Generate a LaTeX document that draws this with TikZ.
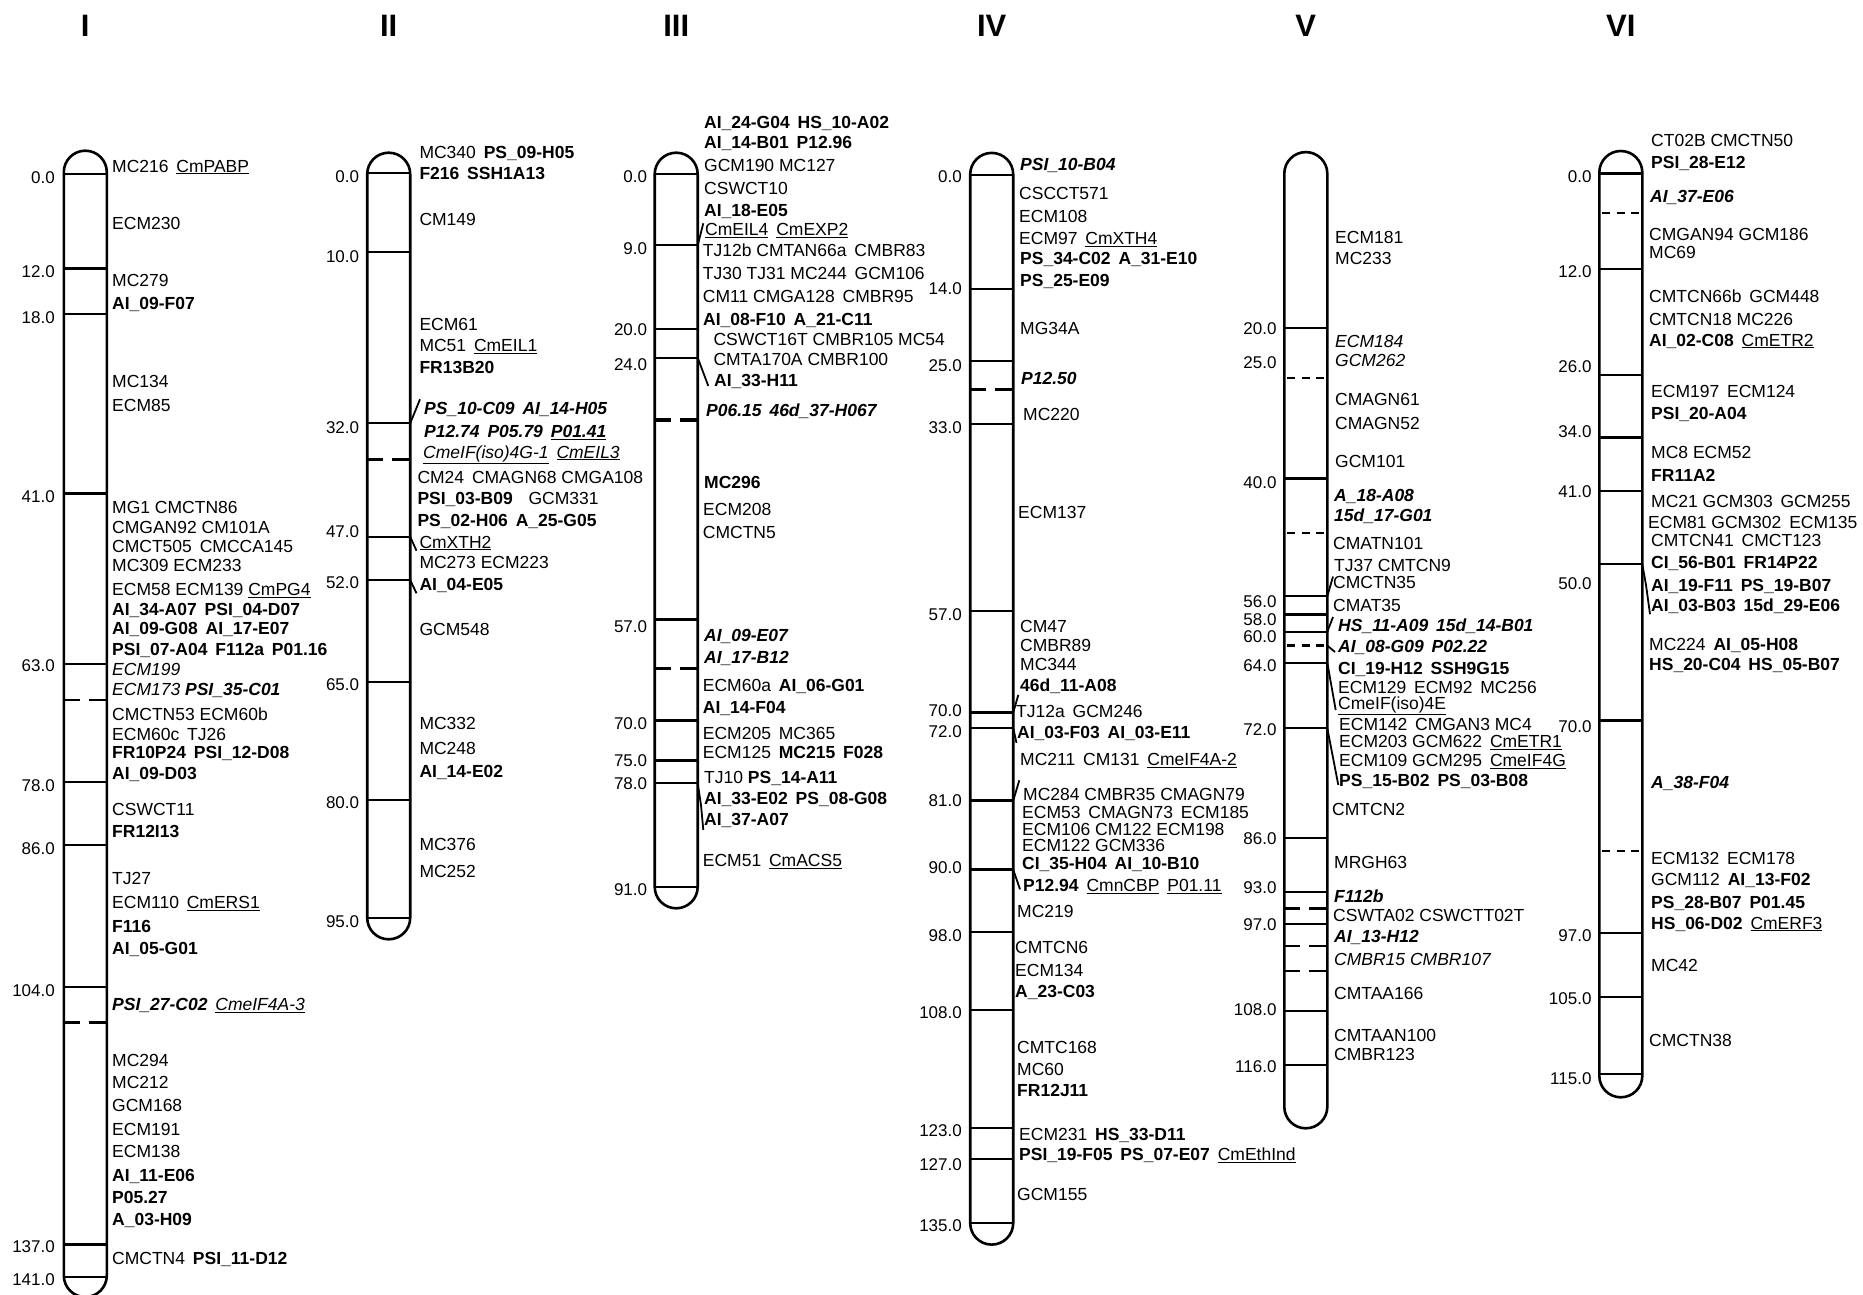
\documentclass[tikz,border=0pt]{standalone}
\usepackage{fontspec}
\setmainfont{Liberation Sans}
\newcommand{\mB}[1]{\textbf{#1}}
\newcommand{\mI}[1]{\textit{#1}}
\newcommand{\mBI}[1]{\textbf{\textit{#1}}}
\newcommand{\mU}[1]{\underline{#1}}
\newcommand{\gp}{\hspace{0.45em}}
\tikzset{
 lbl/.style={font=\fontsize{17.5}{19}\selectfont, anchor=west, inner sep=0pt, text height=12.6pt, text depth=0pt},
 tk/.style={font=\fontsize{17}{19}\selectfont, anchor=east, inner sep=0pt, text height=12.2pt, text depth=0pt},
 hdr/.style={font=\fontsize{31}{33}\selectfont\bfseries, inner sep=0pt},
 bar/.style={line width=2.6pt},
 tick/.style={line width=2.3pt},
 thk/.style={line width=3.2pt},
 dsh/.style={line width=2.4pt, dash pattern=on 16pt off 9pt on 18pt off 9pt},
 dshk/.style={line width=3.2pt, dash pattern=on 16pt off 9pt on 18pt off 9pt},
 dshs/.style={line width=2.2pt, dash pattern=on 8pt off 6.5pt},
 dshsk/.style={line width=3.2pt, dash pattern=on 8pt off 6.5pt},
 slant/.style={line width=1.8pt},
}
\newcommand{\chrbar}[3]{%
 \draw[bar] (#1-21.5,#2+21.5) arc[start angle=180,end angle=0,radius=21.5pt] -- (#1+21.5,#3-21.5) arc[start angle=0,end angle=-180,radius=21.5pt] -- cycle;}
\begin{document}
\begin{tikzpicture}[x=1pt,y=-1pt]
\useasboundingbox (0,0) rectangle (1863,1295);
\fill[white] (0,0) rectangle (1863,1295);

% headers
\node[hdr] (h1) at (85.3,26) {I};
\node[hdr] (h2) at (388.7,26) {II};
\node[hdr] (h3) at (676.2,26) {III};
\node[hdr] (h4) at (991.7,26) {IV};
\node[hdr] (h5) at (1305.8,26) {V};
\node[hdr] (h6) at (1620.8,26) {VI};

% ---------------- Chromosome I
\chrbar{85.3}{150.7}{1297}
\foreach \py in {174,268.5,314,493.5,664.3,782.3,845.3,987.3,1244.6,1276.8} \draw[tick] (63.8,\py) -- (106.8,\py);
\draw[dsh] (63.8,700.1) -- (106.8,700.1);
\draw[dshk] (63.8,1022.6) -- (106.8,1022.6);
\foreach[count=\i] \py/\tx in {177/0.0,271.5/12.0,317/18.0,496.5/41.0,665/63.0,785/78.0,848/86.0,990/104.0,1246/137.0,1279/141.0}
 \node[tk] (ta\i) at (55,\py) {\tx};
\foreach[count=\i] \px/\py/\tx in {
 112/165.7/{MC216\gp\mU{CmPABP}},
 112/222.9/{ECM230},
 112/280.5/{MC279},
 112/303.1/{\mB{AI\_09-F07}},
 112/381.4/{MC134},
 112/405.5/{ECM85},
 112/507.4/{MG1 CMCTN86},
 112/527.0/{CMGAN92 CM101A},
 112/545.8/{CMCT505\gp CMCCA145},
 112/565.4/{MC309 ECM233},
 112/589.1/{ECM58 ECM139 \mU{CmPG4}},
 112/608.7/{\mB{AI\_34-A07\gp PSI\_04-D07}},
 112/628.6/{\mB{AI\_09-G08\gp AI\_17-E07}},
 112/649.3/{\mB{PSI\_07-A04\gp F112a\gp P01.16}},
 112/669.2/{\mI{ECM199}},
 112/688.8/{\mI{ECM173} \mBI{PSI\_35-C01}},
 112/714.0/{CMCTN53 ECM60b},
 112/734.2/{ECM60c\gp TJ26},
 112/752.4/{\mB{FR10P24\gp PSI\_12-D08}},
 112/773.2/{\mB{AI\_09-D03}},
 112/808.9/{CSWCT11},
 112/830.9/{\mB{FR12I13}},
 112/878.4/{TJ27},
 112/901.9/{ECM110\gp\mU{CmERS1}},
 112/925.8/{\mB{F116}},
 112/948.6/{\mB{AI\_05-G01}},
 112/1004.4/{\mBI{PSI\_27-C02}\gp\mU{\mI{CmeIF4A-3}}},
 112/1059.8/{MC294},
 112/1082.5/{MC212},
 112/1105.3/{GCM168},
 112/1128.8/{ECM191},
 112/1150.8/{ECM138},
 112/1175.1/{\mB{AI\_11-E06}},
 112/1197.1/{\mB{P05.27}},
 112/1219.2/{\mB{A\_03-H09}},
 112/1258.6/{CMCTN4\gp\mB{PSI\_11-D12}}}
 \node[lbl] (a\i) at (\px,\py) {\tx};

% ---------------- Chromosome II
\chrbar{388.7}{152.7}{939.3}
\foreach \py in {172.7,252,423.3,536.7,580,681.7,800,917.7} \draw[tick] (367.2,\py) -- (410.2,\py);
\draw[dshk] (367.2,459.3) -- (410.2,459.3);
\draw[slant] (410.2,423.3) -- (420,399.3);
\draw[slant] (410.2,536.7) -- (416.5,550.7);
\draw[slant] (410.2,580) -- (416.5,593.3);
\foreach[count=\i] \py/\tx in {176.7/0.0,256/10.0,427.7/32.0,531.7/47.0,582/52.0,684/65.0,802/80.0,921/95.0}
 \node[tk] (tb\i) at (359.3,\py) {\tx};
\foreach[count=\i] \px/\py/\tx in {
 419.3/151.7/{MC340\gp\mB{PS\_09-H05}},
 419.3/173.3/{\mB{F216\gp SSH1A13}},
 419.3/219.3/{CM149},
 419.3/324/{ECM61},
 419.3/345/{MC51\gp\mU{CmEIL1}},
 419.3/367.3/{\mB{FR13B20}},
 424/408.3/{\mBI{PS\_10-C09\gp AI\_14-H05}},
 424/431/{\mBI{P12.74\gp P05.79\gp \mU{P01.41}}},
 423/451.7/{\mU{\mI{CmeIF(iso)4G-1}}\gp\mU{\mI{CmEIL3}}},
 417.3/476.7/{CM24\gp CMAGN68 CMGA108},
 417.3/497.7/{\mB{PSI\_03-B09}\gp\gp GCM331},
 417.3/520/{\mB{PS\_02-H06\gp A\_25-G05}},
 419.3/541.7/{\mU{CmXTH2}},
 419.3/562.3/{MC273 ECM223},
 419.3/584/{\mB{AI\_04-E05}},
 419.3/629.3/{GCM548},
 419.3/722.7/{MC332},
 419.3/747.7/{MC248},
 419.3/771/{\mB{AI\_14-E02}},
 419.3/844.3/{MC376},
 419.3/871/{MC252}}
 \node[lbl] (b\i) at (\px,\py) {\tx};

% ---------------- Chromosome III
\chrbar{676.2}{152.7}{908.3}
\foreach \py in {174,245.3,329.3,357.7,783.3,886.7} \draw[tick] (654.7,\py) -- (697.7,\py);
\foreach \py in {619.3,720.7,760.7} \draw[thk] (654.7,\py) -- (697.7,\py);
\draw[dshk] (654.7,420) -- (697.7,420);
\draw[dsh] (654.7,668.3) -- (697.7,668.3);
\draw[slant] (697.7,245.3) -- (703.3,223.3);
\draw[slant] (697.7,357.7) -- (708.3,386);
\draw[slant] (697.7,783.3) -- (701,805) -- (703.3,830);
\foreach[count=\i] \py/\tx in {176/0.0,248.3/9.0,329.3/20.0,364.3/24.0,626/57.0,723.3/70.0,760/75.0,783.3/78.0,889.3/91.0}
 \node[tk] (tc\i) at (647.3,\py) {\tx};
\foreach[count=\i] \px/\py/\tx in {
 704/122.7/{\mB{AI\_24-G04\gp HS\_10-A02}},
 704/142.7/{\mB{AI\_14-B01\gp P12.96}},
 704/165/{GCM190 MC127},
 704/187.7/{CSWCT10},
 704/210/{\mB{AI\_18-E05}},
 705/229.3/{\mU{CmEIL4}\gp\mU{CmEXP2}},
 702.7/250/{TJ12b CMTAN66a\gp CMBR83},
 702.7/273.3/{TJ30 TJ31 MC244\gp GCM106},
 702.7/296/{CM11 CMGA128\gp CMBR95},
 703/319/{\mB{AI\_08-F10\gp A\_21-C11}},
 713.3/339.3/{CSWCT16T CMBR105 MC54},
 713.3/359.3/{CMTA170A CMBR100},
 714/380/{\mB{AI\_33-H11}},
 706/410/{\mBI{P06.15\gp 46d\_37-H067}},
 704/481.7/{\mB{MC296}},
 703/509.3/{ECM208},
 702.7/531.7/{CMCTN5},
 704/635/{\mBI{AI\_09-E07}},
 704/656.7/{\mBI{AI\_17-B12}},
 702.7/685/{ECM60a\gp\mB{AI\_06-G01}},
 702.7/706.7/{\mB{AI\_14-F04}},
 702.7/733.3/{ECM205\gp MC365},
 702.7/752.3/{ECM125\gp\mB{MC215\gp F028}},
 704/777.3/{TJ10 \mB{PS\_14-A11}},
 704/797.7/{\mB{AI\_33-E02\gp PS\_08-G08}},
 704/819.3/{\mB{AI\_37-A07}},
 702.7/860/{ECM51\gp\mU{CmACS5}}}
 \node[lbl] (c\i) at (\px,\py) {\tx};

% ---------------- Chromosome IV
\chrbar{991.7}{152.9}{1244.6}
\foreach \py in {175.1,289.1,361.2,423.7,610.9,712.6,727.9,932.1,1010,1127.8,1158.9,1223.2} \draw[tick] (970.2,\py) -- (1013.2,\py);
\foreach \py in {800.7,869.6} \draw[thk] (970.2,\py) -- (1013.2,\py);
\draw[dshk] (970.2,389.7) -- (1013.2,389.7);
\draw[slant] (1013.2,712.6) -- (1018.3,694.9);
\draw[slant] (1013.2,727.9) -- (1016.5,742.9);
\draw[slant] (1013.2,800.7) -- (1019.3,780.3);
\draw[slant] (1013.2,869.6) -- (1020,889.3);
\foreach[count=\i] \py/\tx in {176.3/0.0,288/14.0,364.9/25.0,427.8/33.0,614.6/57.0,710.7/70.0,731.4/72.0,800/81.0,867.8/90.0,935.7/98.0,1012.5/108.0,1130.3/123.0,1164.2/127.0,1225.6/135.0}
 \node[tk] (td\i) at (962,\py) {\tx};
\foreach[count=\i] \px/\py/\tx in {
 1020/164.0/{\mBI{PSI\_10-B04}},
 1019/192.9/{CSCCT571},
 1019/215.8/{ECM108},
 1019/238.0/{ECM97\gp\mU{CmXTH4}},
 1020/258.4/{\mB{PS\_34-C02\gp A\_31-E10}},
 1020/280.6/{\mB{PS\_25-E09}},
 1020/327.9/{MG34A},
 1021/378.6/{\mBI{P12.50}},
 1023/413.7/{MC220},
 1018/511.7/{ECM137},
 1020/626.4/{CM47},
 1020/644.9/{CMBR89},
 1020/664.5/{MC344},
 1020/684.9/{\mB{46d\_11-A08}},
 1016/710.7/{TJ12a\gp GCM246},
 1017/732.1/{\mB{AI\_03-F03\gp AI\_03-E11}},
 1020/758.9/{MC211\gp CM131\gp\mU{CmeIF4A-2}},
 1023/794.6/{MC284 CMBR35 CMAGN79},
 1022/811.8/{ECM53\gp CMAGN73\gp ECM185},
 1022/829.3/{ECM106 CM122 ECM198},
 1022/845.3/{ECM122 GCM336},
 1022/863.6/{\mB{CI\_35-H04\gp AI\_10-B10}},
 1023/885/{\mB{P12.94}\gp\mU{CmnCBP}\gp\mU{P01.11}},
 1017/911.4/{MC219},
 1015/947.5/{CMTCN6},
 1015/970.3/{ECM134},
 1015/991/{\mB{A\_23-C03}},
 1017/1047.1/{CMTC168},
 1017/1069.6/{MC60},
 1017/1090.3/{\mB{FR12J11}},
 1019/1133.9/{ECM231\gp\mB{HS\_33-D11}},
 1019/1154.6/{\mB{PSI\_19-F05\gp PS\_07-E07}\gp\mU{CmEthInd}},
 1017/1194.6/{GCM155}}
 \node[lbl] (d\i) at (\px,\py) {\tx};

% ---------------- Chromosome V
\chrbar{1305.8}{152.1}{1128.3}
\foreach \py in {327.7,478.6,596.3,614.6,631.8,662.8,728.3,838.3,891.7,924.3,1010.7,1065} \draw[tick] (1284.3,\py) -- (1327.3,\py);
\foreach \py in {378.3,532.6} \draw[dshs] (1287,\py) -- (1327.3,\py);
\draw[dshsk] (1287,645.6) -- (1327.3,645.6);
\foreach \py in {908.3,946,971} \draw[dsh] (1284.3,\py) -- (1327.3,\py);
\draw[slant] (1327.3,596.3) -- (1333,576.5);
\draw[slant] (1327.3,631.8) -- (1333,617);
\draw[slant] (1327.3,645.6) -- (1335,652);
\draw[slant] (1327.3,662.8) -- (1335.7,710);
\draw[slant] (1327.3,728.3) -- (1338.3,785);
\foreach[count=\i] \py/\tx in {328.7/20.0,362.1/25.0,482.7/40.0,601.5/56.0,619.4/58.0,636/60.0,665.2/64.0,729.3/72.0,838.3/86.0,887.7/93.0,924.3/97.0,1009.3/108.0,1066.7/116.0}
 \node[tk] (te\i) at (1276.7,\py) {\tx};
\foreach[count=\i] \px/\py/\tx in {
 1335/237.5/{ECM181},
 1335/258.1/{MC233},
 1335/340.8/{\mI{ECM184}},
 1335/360.4/{\mI{GCM262}},
 1335/399.0/{CMAGN61},
 1335/423.1/{CMAGN52},
 1335/461.3/{GCM101},
 1334/494.7/{\mBI{A\_18-A08}},
 1334/515.4/{\mBI{15d\_17-G01}},
 1333/543.0/{CMATN101},
 1334/565.3/{TJ37 CMTCN9},
 1333/582.6/{CMCTN35},
 1333/605.0/{CMAT35},
 1338/625.0/{\mBI{HS\_11-A09\gp 15d\_14-B01}},
 1338/646.3/{\mBI{AI\_08-G09\gp P02.22}},
 1338/668.3/{\mB{CI\_19-H12\gp SSH9G15}},
 1338/686.7/{ECM129\gp ECM92\gp MC256},
 1338/703.3/{\mU{CmeIF(iso)4E}},
 1339/724.3/{ECM142\gp CMGAN3 MC4},
 1339/741/{ECM203 GCM622\gp\mU{CmETR1}},
 1339/760/{ECM109 GCM295\gp\mU{CmeIF4G}},
 1339/780/{\mB{PS\_15-B02\gp PS\_03-B08}},
 1332/809/{CMTCN2},
 1334/861.7/{MRGH63},
 1334/896/{\mBI{F112b}},
 1333/915/{CSWTA02 CSWCTT02T},
 1334/936/{\mBI{AI\_13-H12}},
 1334/959/{\mI{CMBR15 CMBR107}},
 1334/992.7/{CMTAA166},
 1334/1035/{CMTAAN100},
 1334/1054/{CMBR123}}
 \node[lbl] (e\i) at (\px,\py) {\tx};

% ---------------- Chromosome VI
\chrbar{1620.8}{151}{1097.3}
\foreach \py in {173.4,268.8,374.9,437.5,491.3,564.3,932.7,996.7,1074} \draw[tick] (1599.3,\py) -- (1642.3,\py);
\draw[thk] (1599.3,720.7) -- (1642.3,720.7);
\foreach \py in {213,851} \draw[dshs] (1602,\py) -- (1642.3,\py);
\draw[slant] (1642.3,564.3) -- (1646,585) -- (1650,614.2);
\foreach[count=\i] \py/\tx in {176.8/0.0,271.5/12.0,366.3/26.0,431.7/34.0,491.3/41.0,583.2/50.0,726/70.0,935/97.0,998.3/105.0,1078.3/115.0}
 \node[tk] (tf\i) at (1591.7,\py) {\tx};
\foreach[count=\i] \px/\py/\tx in {
 1651/140/{CT02B CMCTN50},
 1651/162.4/{\mB{PSI\_28-E12}},
 1650/195.8/{\mBI{AI\_37-E06}},
 1649/233.7/{CMGAN94 GCM186},
 1649/252.6/{MC69},
 1649/296.3/{CMTCN66b\gp GCM448},
 1649/319.1/{CMTCN18 MC226},
 1649/339.7/{\mB{AI\_02-C08}\gp\mU{CmETR2}},
 1651/391.4/{ECM197\gp ECM124},
 1651/413.4/{\mB{PSI\_20-A04}},
 1651/452.3/{MC8 ECM52},
 1651/474.7/{\mB{FR11A2}},
 1651/501.6/{MC21 GCM303\gp GCM255},
 1648/522.3/{ECM81 GCM302\gp ECM135},
 1651/540.2/{CMTCN41\gp CMCT123},
 1651/561.9/{\mB{CI\_56-B01\gp FR14P22}},
 1651/585/{\mB{AI\_19-F11\gp PS\_19-B07}},
 1651/605.6/{\mB{AI\_03-B03\gp 15d\_29-E06}},
 1649/644/{MC224\gp\mB{AI\_05-H08}},
 1649/664/{\mB{HS\_20-C04\gp HS\_05-B07}},
 1651/781.7/{\mBI{A\_38-F04}},
 1651/858.3/{ECM132\gp ECM178},
 1651/879/{GCM112\gp\mB{AI\_13-F02}},
 1651/901.7/{\mB{PS\_28-B07\gp P01.45}},
 1651/922.7/{\mB{HS\_06-D02}\gp\mU{CmERF3}},
 1651/965/{MC42},
 1649/1040/{CMCTN38}}
 \node[lbl] (f\i) at (\px,\py) {\tx};
\end{tikzpicture}
\end{document}
